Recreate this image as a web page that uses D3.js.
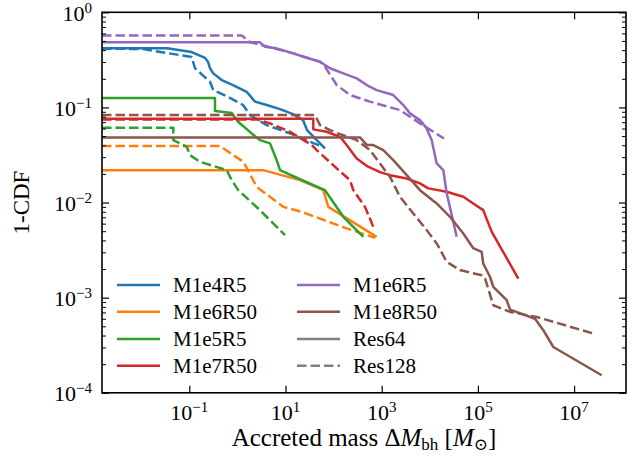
<!DOCTYPE html>
<html><head><meta charset="utf-8">
<script src="https://cdn.jsdelivr.net/npm/d3@7"></script>
<style>body{margin:0;background:#fff}svg{display:block}</style>
</head><body>
<script>
// ---- data (x: accreted mass, y: 1-CDF) ----
const xTicks = [1e-1, 1e1, 1e3, 1e5, 1e7];
const xTickExp = ["−1", "1", "3", "5", "7"];
const yTicks = [1, 1e-1, 1e-2, 1e-3, 1e-4];
const yTickExp = ["0", "−1", "−2", "−3", "−4"];

const m1e4r5_res64 = [[1.53e-3,0.418],[0.0344,0.418],[0.112,0.382],[0.212,0.331],[0.245,0.302],[0.269,0.259],[0.315,0.228],[0.472,0.194],[0.811,0.172],[1.56,0.146],[2.32,0.115],[4.07,0.106],[7.69,0.096],[14.3,0.0851],[23.1,0.0736],[28.0,0.0578],[52.1,0.0419],[66.2,0.0371]];
const m1e4r5_res128 = [[1.53e-3,0.415],[0.0109,0.411],[0.0344,0.373],[0.112,0.339],[0.131,0.259],[0.269,0.186],[0.315,0.152],[0.638,0.129],[1.31,0.106],[1.83,0.0831],[4.07,0.0652],[12.4,0.0533],[32.3,0.0435],[61.1,0.0385]];
const m1e6r50_res64 = [[1.53e-3,0.0219],[3.45,0.0219],[20.0,0.0172],[61.1,0.0135],[77.6,0.00901],[787,0.00436]];
const m1e6r50_res128 = [[1.53e-3,0.0392],[0.435,0.0392],[1.33,0.0268],[2.52,0.0146],[9.0,0.00901],[21.7,0.00798],[187,0.00535],[726,0.00427]];
const m1e5r5_res64 = [[1.53e-3,0.126],[0.342,0.126],[0.342,0.0916],[0.761,0.0872],[1.03,0.0706],[1.98,0.0533],[2.95,0.0453],[4.76,0.0419],[6.56,0.0279],[7.69,0.0219],[18.5,0.0179],[66.2,0.0135],[77.6,0.0120],[159,0.00708],[414,0.00436]];
const m1e5r5_res128 = [[1.53e-3,0.0611],[0.0465,0.0611],[0.0465,0.0453],[0.0883,0.0385],[0.104,0.0315],[0.167,0.0268],[0.599,0.0219],[0.761,0.0172],[1.04,0.0135],[2.95,0.00832],[9.77,0.00454]];
const m1e7r50_res64 = [[1.53e-3,0.0760],[37.8,0.0760],[37.8,0.0588],[71.9,0.0555],[136,0.0491],[187,0.0402],[302,0.0291],[519,0.0238],[922,0.0209],[1489,0.0194],[3311,0.0179],[6252,0.0159],[9310,0.0141],[22460,0.0130],[49700,0.0115],[80200,0.00979],[1.29e5,0.00832],[1.94e5,0.00492],[6.92e5,0.00159]];
const m1e7r50_res128 = [[1.53e-3,0.0745],[2.68,0.0745],[4.76,0.0680],[12.4,0.0555],[35.1,0.0402],[44.5,0.0356],[116,0.0229],[219,0.0172],[257,0.0135],[450,0.00901],[669,0.00555]];
const m1e6r5_res64 = [[1.53e-3,0.483],[2.95,0.483],[3.75,0.435],[6.56,0.418],[14.5,0.370],[23.5,0.341],[52.1,0.302],[84.2,0.258],[159,0.228],[302,0.202],[488,0.172],[787,0.152],[1742,0.135],[2812,0.106],[3873,0.0866],[6252,0.0736],[8630,0.0602],[10960,0.0453],[13900,0.0258],[19090,0.0219],[22460,0.0125],[36220,0.00436]];
const m1e6r5_res128 = [[1.53e-3,0.570],[1.23,0.570],[1.83,0.487],[3.75,0.442],[14.5,0.370],[52.1,0.302],[66.2,0.268],[116,0.172],[219,0.135],[571,0.115],[2399,0.0938],[6252,0.0680],[19720,0.0472]];
const m1e8r50_res64 = [[1.53e-3,0.0484],[354,0.0484],[494,0.0402],[669,0.0402],[1079,0.0356],[1742,0.0279],[3311,0.0194],[6252,0.0135],[13900,0.00979],[26300,0.00708],[49700,0.00473],[80200,0.00331],[1.2e5,0.00303],[1.29e5,0.00229],[1.79e5,0.00165],[2.09e5,0.00130],[3.97e5,0.00094],[4.67e5,0.00075],[1.54e6,0.00060],[2.29e6,0.000455],[3.7e6,0.000303],[3.75e7,0.000153]];
const m1e8r50_res128 = [[1.53e-3,0.0831],[41.1,0.0831],[52.1,0.0652],[84.2,0.0578],[123,0.0533],[302,0.0453],[571,0.0356],[1489,0.0186],[2399,0.0115],[4540,0.00768],[8630,0.00513],[13900,0.00372],[22460,0.00238],[42460,0.00195],[1.2e5,0.00172],[1.41e5,0.00159],[2.09e5,0.000833],[4.67e5,0.000708],[1.67e6,0.000627],[2.51e7,0.00042]];

const runNames = ["M1e4R5","M1e6R50","M1e5R5","M1e7R50","M1e6R5","M1e8R50"];
const runColors = ["#1f77b4","#ff7f0e","#2ca02c","#d62728","#9467bd","#8c564b"];
const res64 = [m1e4r5_res64, m1e6r50_res64, m1e5r5_res64, m1e7r50_res64, m1e6r5_res64, m1e8r50_res64];
const res128 = [m1e4r5_res128, m1e6r50_res128, m1e5r5_res128, m1e7r50_res128, m1e6r5_res128, m1e8r50_res128];
const resNames = ["Res64","Res128"];

// ---- layout ----
const W = 643, H = 459;
const L = 102, R = 626, T = 12.3, B = 392.8;
const DASH = "9.5,4";
const FONT = "'Liberation Serif', 'DejaVu Serif', serif";
const svg = d3.select("body").append("svg").attr("width", W).attr("height", H)
  .attr("font-family", FONT);
const x = d3.scaleLog().domain([1.53e-3, 1.2e8]).range([L, R]);
const y = d3.scaleLog().domain([1e-4, 1]).range([B, T]);

svg.append("clipPath").attr("id","clip").append("rect").attr("x",L).attr("y",T).attr("width",R-L).attr("height",B-T);
const line = d3.line().x(d => x(d[0])).y(d => y(d[1]));
const g = svg.append("g").attr("clip-path","url(#clip)");
runNames.forEach((n, i) => {
  g.append("path").attr("d", line(res64[i])).attr("fill","none").attr("stroke",runColors[i])
    .attr("stroke-width",2.5).attr("stroke-linejoin","round");
  g.append("path").attr("d", line(res128[i])).attr("fill","none").attr("stroke",runColors[i])
    .attr("stroke-width",2.5).attr("stroke-linejoin","round").attr("stroke-dasharray",DASH);
});

// ---- axes ----
const yMinor = [];
for (let e = -4; e < 0; e++) for (let k = 2; k <= 9; k++) yMinor.push(k * Math.pow(10, e));
function addAxis(axisGen, tr) {
  const a = svg.append("g").attr("transform", tr).call(axisGen);
  a.select(".domain").remove();
  a.selectAll("text").remove();
  a.selectAll("line").attr("stroke","#000").attr("stroke-width",1.2);
  return a;
}
addAxis(d3.axisBottom(x).tickValues(xTicks).tickSize(-7), `translate(0,${B})`);
addAxis(d3.axisTop(x).tickValues(xTicks).tickSize(-7), `translate(0,${T})`);
addAxis(d3.axisLeft(y).tickValues(yTicks).tickSize(-7), `translate(${L},0)`);
addAxis(d3.axisRight(y).tickValues(yTicks).tickSize(-7), `translate(${R},0)`);
addAxis(d3.axisLeft(y).tickValues(yMinor).tickSize(-4), `translate(${L},0)`).selectAll("line").attr("stroke-width",1);
addAxis(d3.axisRight(y).tickValues(yMinor).tickSize(-4), `translate(${R},0)`).selectAll("line").attr("stroke-width",1);
svg.append("rect").attr("x",L).attr("y",T).attr("width",R-L).attr("height",B-T)
  .attr("fill","none").attr("stroke","#000").attr("stroke-width",1.6);

const FS = 21;
xTicks.forEach((v, i) => {
  const t = svg.append("text").attr("x", x(v)).attr("y", 420).attr("text-anchor","middle")
    .attr("font-family", FONT).attr("font-size", 22);
  t.append("tspan").text("10");
  t.append("tspan").attr("dy",-8).attr("font-size",15).text(xTickExp[i]);
});
yTicks.forEach((v, i) => {
  const t = svg.append("text").attr("x", 92).attr("y", y(v) + 8.5).attr("text-anchor","end")
    .attr("font-family", FONT).attr("font-size", 22);
  t.append("tspan").text("10");
  t.append("tspan").attr("dy",-8).attr("font-size",15).text(yTickExp[i]);
});

// axis labels
const xl = svg.append("text").attr("x", (L+R)/2).attr("y", 446).attr("text-anchor","middle")
  .attr("font-family", FONT).attr("font-size", 25);
xl.append("tspan").text("Accreted mass Δ");
xl.append("tspan").attr("font-style","italic").text("M");
xl.append("tspan").attr("dy",4).attr("font-size",17).text("bh");
xl.append("tspan").attr("dy",-4).text(" [");
xl.append("tspan").attr("font-style","italic").text("M");
xl.append("tspan").attr("dy",4).attr("font-size",17).text("⊙");
xl.append("tspan").attr("dy",-4).text("]");

svg.append("text").attr("transform", `translate(29,${(T+B)/2}) rotate(-90)`).attr("text-anchor","middle")
  .attr("font-family", FONT).attr("font-size", 23).text("1-CDF");

// ---- legend ----
const legItems = runNames.map((n, i) => ({name: n, color: runColors[i], dash: null}))
  .concat([{name: resNames[0], color: "#7f7f7f", dash: null}, {name: resNames[1], color: "#7f7f7f", dash: DASH}]);
const colX = [117, 297], rowY = [285, 311.7, 339, 365.7];
legItems.forEach((it, i) => {
  const c = Math.floor(i / 4), r = i % 4;
  const lx = colX[c], ly = rowY[r];
  svg.append("line").attr("x1", lx).attr("x2", lx + 43).attr("y1", ly).attr("y2", ly)
    .attr("stroke", it.color).attr("stroke-width", 2.5).attr("stroke-dasharray", it.dash);
  svg.append("text").attr("x", lx + 56).attr("y", ly + 7).attr("font-family", FONT)
    .attr("font-size", FS).text(it.name);
});
</script>
</body></html>
